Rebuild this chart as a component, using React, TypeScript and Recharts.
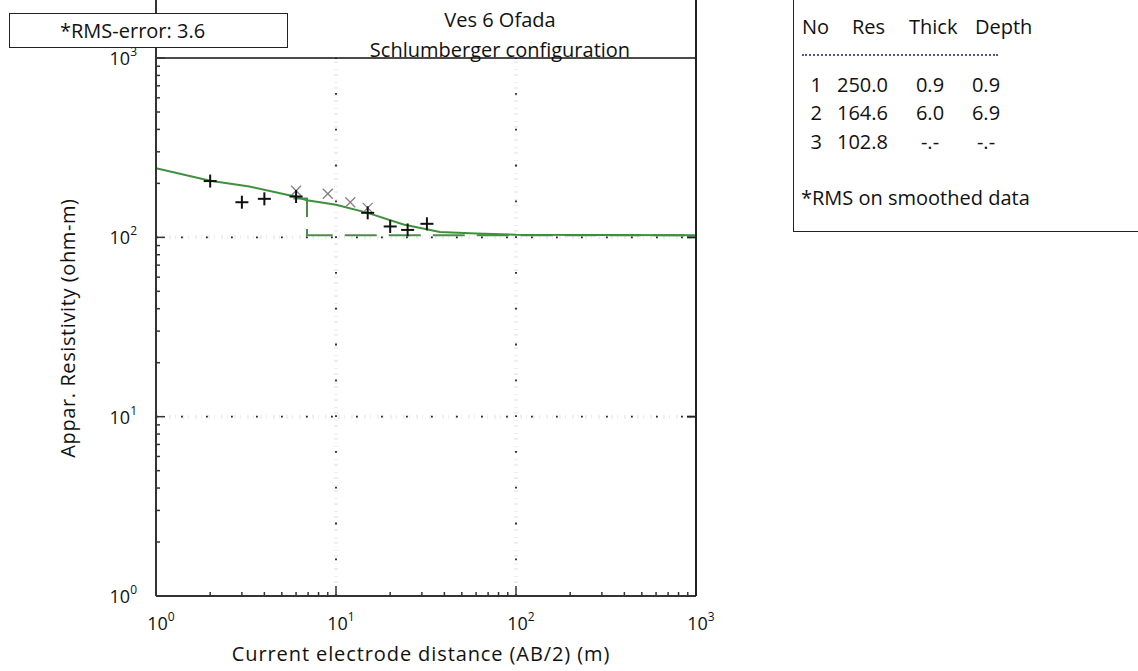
import React from 'react';
import { ComposedChart, XAxis, YAxis, Line, Scatter, ReferenceLine } from 'recharts';

// field data (AB/2 in m, apparent resistivity in ohm-m)
const obsAB2 = [2, 3, 4, 6, 15, 20, 25, 32];
const obsRho = [206, 157, 164, 169, 137, 115, 110, 119];

// smoothed / shifted points drawn as grey crosses
const smAB2 = [6, 9, 12, 15];
const smRho = [182, 175, 157, 146];

// computed sounding curve
const curveAB2 = [1, 2, 3.3, 5.9, 6.9, 10, 15, 23.7, 37.8, 60, 100, 1000];
const curveRho = [243, 207, 192, 169, 161, 152, 137, 118, 107, 105, 103.5, 102.8];

// layered model (table + step)
const layerNo = [1, 2, 3];
const layerRes = [250.0, 164.6, 102.8];
const layerThick = ['0.9', '6.0', '-.-'];
const layerDepth = ['0.9', '6.9', '-.-'];
const stepAB2 = [5.8, 6.9, 6.9, 1000];
const stepRho = [164.6, 164.6, 102.8, 102.8];

const decades = [1, 10, 100, 1000];
const minorTicks = [1, 10, 100].flatMap((d) => [1, 2, 3, 4, 5, 6, 7, 8, 9].map((m) => m * d)).concat([1000]);

const obsData = obsAB2.map((x, i) => ({ x, y: obsRho[i] }));
const smData = smAB2.map((x, i) => ({ x, y: smRho[i] }));
const curveData = curveAB2.map((x, i) => ({ x, y: curveRho[i] }));
const stepData = stepAB2.map((x, i) => ({ x, y: stepRho[i] }));

const FONT = '"Open Sans", sans-serif';
const Y_TOP = 2107; // frame runs above the 10^3 line up to the page top

const isDecade = (v: number) => Math.abs(Math.log10(v) - Math.round(Math.log10(v))) < 1e-6;

const XTick = (props: any) => {
  const { x, y, payload } = props;
  const v = payload.value;
  const major = isDecade(v);
  const exp = Math.round(Math.log10(v));
  return (
    <g>
      {v > 1 && v < 1000 && (
        <line x1={x} x2={x} y1={y} y2={y - (major ? 10 : 4)} stroke="#333" strokeWidth={1.5} />
      )}
      {major && (
        <text x={x + 5} y={y + 34} textAnchor="middle" fontSize={18} fill="#111" fontFamily={FONT}>
          <tspan>10</tspan>
          <tspan dy={-9} fontSize={12}>{exp}</tspan>
        </text>
      )}
    </g>
  );
};

const YTick = (props: any) => {
  const { x, y, payload } = props;
  const v = payload.value;
  const major = isDecade(v);
  const exp = Math.round(Math.log10(v));
  return (
    <g>
      {v > 1 && v <= 1000 && (
        <line x1={x} x2={x + (major ? 9 : 4)} y1={y} y2={y} stroke="#333" strokeWidth={1.5} />
      )}
      {major && (
        <text x={x - 19} y={y + 7} textAnchor="end" fontSize={18} fill="#111" fontFamily={FONT}>
          <tspan>10</tspan>
          <tspan dy={-9} fontSize={12}>{exp}</tspan>
        </text>
      )}
    </g>
  );
};

const RTick = (props: any) => {
  const { x, y, payload } = props;
  const v = payload.value;
  if (v <= 1 || v >= 1000) return null;
  return <line x1={x} x2={x - 9} y1={y} y2={y} stroke="#222" strokeWidth={2} />;
};

const Plus = (props: any) => {
  const { cx, cy } = props;
  return (
    <g stroke="#111" strokeWidth={2}>
      <line x1={cx - 6.5} x2={cx + 6.5} y1={cy} y2={cy} />
      <line x1={cx} x2={cx} y1={cy - 6.5} y2={cy + 6.5} />
    </g>
  );
};

const Cross = (props: any) => {
  const { cx, cy } = props;
  return (
    <g stroke="#808080" strokeWidth={1.3}>
      <line x1={cx - 5} x2={cx + 5} y1={cy - 5} y2={cy + 5} />
      <line x1={cx - 5} x2={cx + 5} y1={cy + 5} y2={cy - 5} />
    </g>
  );
};

const abs = (left: number, top: number, extra: React.CSSProperties = {}): React.CSSProperties => ({
  position: 'absolute',
  left,
  top,
  whiteSpace: 'nowrap',
  fontSize: 20,
  lineHeight: '20px',
  ...extra,
});

// table text centres
const rowY = [85, 113, 142];

export default function App() {
  return (
    <div style={{ position: 'absolute', left: 0, top: 0, width: 1138, height: 671, background: '#fff', fontFamily: FONT, color: '#111', overflow: 'hidden' }}>
      <ComposedChart width={1138} height={671} margin={{ top: 0, right: 432, bottom: 0, left: 0 }}>
        <XAxis
          dataKey="x"
          type="number"
          scale="log"
          domain={[1, 1000]}
          ticks={minorTicks}
          interval={0}
          allowDataOverflow
          height={75}
          tickSize={0}
          tickMargin={0}
          tickLine={false}
          tick={<XTick />}
          axisLine={{ stroke: '#333', strokeWidth: 2 }}
        />
        <YAxis
          dataKey="y"
          type="number"
          scale="log"
          domain={[1, Y_TOP]}
          ticks={minorTicks}
          interval={0}
          allowDataOverflow
          width={156}
          tickSize={0}
          tickMargin={0}
          tickLine={false}
          tick={<YTick />}
          axisLine={{ stroke: '#333', strokeWidth: 2 }}
        />
        <YAxis
          yAxisId="r"
          orientation="right"
          type="number"
          scale="log"
          domain={[1, Y_TOP]}
          ticks={decades}
          interval={0}
          allowDataOverflow
          width={10}
          tickSize={0}
          tickMargin={0}
          tickLine={false}
          tick={<RTick />}
          axisLine={{ stroke: '#222', strokeWidth: 2 }}
        />

        {[10, 100].map((v) => (
          <ReferenceLine key={'hg' + v} y={v} stroke="#efefef" strokeWidth={4} strokeDasharray="2 4 1 6" />
        ))}
        {[10, 100].map((v) => (
          <ReferenceLine key={'h' + v} y={v} stroke="#222" strokeWidth={1.8} strokeDasharray="1.8 23.2" />
        ))}
        {[10, 100].map((v) => (
          <ReferenceLine key={'vg' + v} segment={[{ x: v, y: 1 }, { x: v, y: 1000 }]} stroke="#efefef" strokeWidth={4} strokeDasharray="2 4 1 6" />
        ))}
        {[10, 100].map((v) => (
          <ReferenceLine key={'v' + v} segment={[{ x: v, y: 1 }, { x: v, y: 1000 }]} stroke="#222" strokeWidth={1.8} strokeDasharray="1.8 34" />
        ))}
        <ReferenceLine y={1000} stroke="#111" strokeWidth={1.5} />

        <Line data={stepData} dataKey="y" type="linear" stroke="#4d8c4d" strokeWidth={2} strokeDasharray="32 12" dot={false} isAnimationActive={false} />
        <Line data={curveData} dataKey="y" type="linear" stroke="#3f8f3f" strokeWidth={2} dot={false} isAnimationActive={false} />
        <Scatter data={smData} dataKey="y" shape={<Cross />} isAnimationActive={false} />
        <Scatter data={obsData} dataKey="y" shape={<Plus />} isAnimationActive={false} />
      </ComposedChart>

      {/* RMS box */}
      <div style={abs(9, 13, { width: 277, height: 33, border: '1.5px solid #222', background: '#fff' })}>
        <span style={abs(50, 7)}>*RMS-error: 3.6</span>
      </div>

      {/* title */}
      <div style={abs(300, 5, { width: 400, textAlign: 'center', lineHeight: '30px' })}>
        <div>Ves 6 Ofada</div>
        <div>Schlumberger configuration</div>
      </div>

      {/* axis titles */}
      <div style={abs(121, 644, { width: 600, textAlign: 'center', letterSpacing: '0.9px' })}>
        Current electrode distance (AB/2) (m)
      </div>
      <div style={abs(-232, 318, { width: 600, textAlign: 'center', letterSpacing: '0.6px', transform: 'rotate(-90deg)' })}>
        Appar. Resistivity (ohm-m)
      </div>

      {/* layer table */}
      <div style={abs(793, -2, { width: 360, height: 233, borderLeft: '1.5px solid #222', borderBottom: '1.5px solid #222' })} />
      <div style={abs(802, 17)}>No</div>
      <div style={abs(852, 17)}>Res</div>
      <div style={abs(909, 17)}>Thick</div>
      <div style={abs(975, 17)}>Depth</div>
      <div style={abs(802, 54, { width: 196, borderTop: '2px dotted #55558a' })} />
      {layerNo.map((n, i) => (
        <React.Fragment key={n}>
          <div style={abs(808, rowY[i] - 10, { width: 14, textAlign: 'right' })}>{n}</div>
          <div style={abs(837, rowY[i] - 10)}>{layerRes[i].toFixed(1)}</div>
          <div style={abs(910, rowY[i] - 10, { width: 40, textAlign: 'center' })}>{layerThick[i]}</div>
          <div style={abs(966, rowY[i] - 10, { width: 40, textAlign: 'center' })}>{layerDepth[i]}</div>
        </React.Fragment>
      ))}
      <div style={abs(801, 188)}>*RMS on smoothed data</div>
    </div>
  );
}
